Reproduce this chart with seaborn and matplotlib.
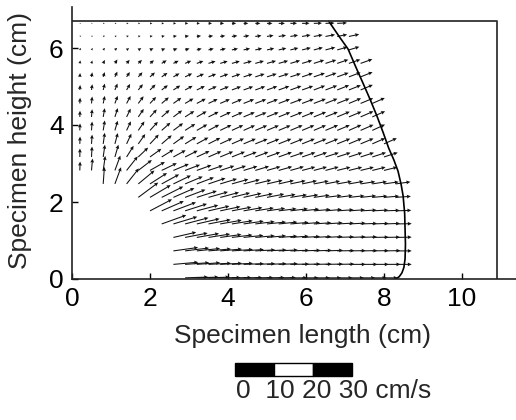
import numpy as np
import pandas as pd
import matplotlib
matplotlib.use("Agg")
from matplotlib import pyplot as plt
from matplotlib.patches import Rectangle
import seaborn as sns

# grid of the velocity field (cm)
col_x = [0.2, 0.5, 0.8, 1.1, 1.4, 1.7, 2.0, 2.3, 2.6, 2.9, 3.2, 3.5, 3.8, 4.1,
         4.4, 4.7, 5.0, 5.3, 5.6, 5.9, 6.2, 6.5, 6.8, 7.1, 7.4, 7.7, 8.0, 8.3]
row_y = [0.03, 0.38, 0.73, 1.08, 1.43, 1.77, 2.12, 2.47, 2.82, 3.17,
         3.51, 3.86, 4.21, 4.56, 4.91, 5.25, 5.60, 5.95, 6.30, 6.64]
# first column index that carries an arrow, per row (bottom -> top)
first_col = [9, 8, 8, 8, 7, 6, 5, 2, 0, 0, 0, 0, 0, 0, 0, 0, 0, 0, 0, 0]

# speed (cm/s) per row, bottom -> top
speed = [
    [5.9, 5.6, 5.4, 5.2, 5.0, 4.8, 4.6, 4.5, 4.4, 4.3, 4.2, 4.1, 4.0, 3.9, 3.8, 3.7, 3.6, 3.5],
    [6.4, 6.2, 6.0, 5.8, 5.6, 5.4, 5.2, 5.1, 5.0, 4.9, 4.8, 4.7, 4.6, 4.5, 4.4, 4.3, 4.3, 4.2, 4.2, 4.1],
    [6.4, 6.2, 6.0, 5.8, 5.6, 5.4, 5.2, 5.1, 5.0, 4.9, 4.8, 4.7, 4.6, 4.5, 4.4, 4.3, 4.3, 4.2, 4.2, 4.1],
    [6.0, 5.9, 5.8, 5.6, 5.5, 5.3, 5.1, 5.0, 4.9, 4.8, 4.7, 4.6, 4.5, 4.4, 4.3, 4.3, 4.2, 4.2, 4.1, 4.1],
    [6.7, 6.4, 6.2, 6.0, 5.8, 5.6, 5.4, 5.2, 5.0, 4.9, 4.8, 4.7, 4.6, 4.5, 4.4, 4.3, 4.3, 4.2, 4.2, 4.1, 4.1],
    [6.4, 6.2, 6.2, 5.9, 5.7, 5.5, 5.3, 5.1, 4.9, 4.8, 4.7, 4.6, 4.5, 4.4, 4.3, 4.2, 4.2, 4.1, 4.1, 4.1, 4.0, 4.0],
    [6.4, 6.2, 6.2, 5.9, 5.6, 5.4, 5.2, 5.0, 4.8, 4.7, 4.6, 4.5, 4.4, 4.3, 4.2, 4.1, 4.1, 4.0, 4.0, 4.0, 3.9, 3.9, 3.9],
    [4.4, 4.6, 5.1, 5.4, 5.2, 5.1, 5.0, 4.9, 4.7, 4.6, 4.5, 4.4, 4.3, 4.2, 4.1, 4.0, 4.0, 3.9, 3.9, 3.8, 3.8, 3.8, 3.8, 3.8, 3.8, 3.8],
    [2.3, 3.1, 3.8, 4.1, 4.6, 4.4, 4.4, 4.3, 4.3, 4.1, 4.0, 3.9, 3.8, 3.8, 3.7, 3.7, 3.6, 3.6, 3.6, 3.5, 3.5, 3.5, 3.5, 3.5, 3.5, 3.5, 3.5],
    [2.2, 2.7, 3.2, 3.3, 3.4, 3.5, 3.6, 3.6, 3.6, 3.6, 3.6, 3.6, 3.6, 3.6, 3.6, 3.6, 3.6, 3.6, 3.6, 3.6, 3.6, 3.6, 3.6, 3.6, 3.6, 3.7, 3.7],
    [1.9, 2.4, 2.9, 2.9, 2.9, 3.1, 3.3, 3.4, 3.4, 3.4, 3.4, 3.4, 3.4, 3.4, 3.4, 3.4, 3.4, 3.5, 3.5, 3.5, 3.5, 3.5, 3.6, 3.6, 3.6, 3.6, 3.6],
    [1.8, 2.3, 2.6, 2.6, 2.6, 2.8, 3.0, 3.0, 3.1, 3.1, 3.1, 3.1, 3.2, 3.2, 3.2, 3.3, 3.3, 3.3, 3.4, 3.4, 3.4, 3.5, 3.5, 3.5, 3.6, 3.6],
    [1.6, 2.0, 2.3, 2.4, 2.4, 2.5, 2.6, 2.7, 2.8, 2.8, 2.9, 2.9, 3.0, 3.0, 3.1, 3.1, 3.2, 3.2, 3.3, 3.3, 3.4, 3.4, 3.5, 3.5, 3.6, 3.6],
    [1.5, 1.8, 2.0, 2.1, 2.2, 2.3, 2.3, 2.4, 2.5, 2.5, 2.6, 2.6, 2.7, 2.8, 2.9, 3.0, 3.0, 3.1, 3.2, 3.2, 3.3, 3.3, 3.4, 3.4, 3.5, 3.5],
    [1.3, 1.5, 1.7, 1.8, 1.8, 1.9, 2.0, 2.0, 2.1, 2.2, 2.3, 2.3, 2.4, 2.5, 2.6, 2.7, 2.8, 2.9, 3.0, 3.0, 3.1, 3.2, 3.3, 3.3, 3.4],
    [1.0, 1.2, 1.3, 1.5, 1.5, 1.6, 1.7, 1.8, 1.8, 2.0, 2.0, 2.1, 2.2, 2.3, 2.4, 2.5, 2.6, 2.7, 2.8, 2.9, 3.0, 3.0, 3.1, 3.2, 3.3],
    [0.8, 0.8, 1.0, 1.2, 1.2, 1.3, 1.3, 1.5, 1.5, 1.7, 1.8, 1.9, 2.0, 2.1, 2.2, 2.3, 2.4, 2.5, 2.6, 2.7, 2.8, 2.9, 3.0, 3.1, 3.2],
    [0.6, 0.6, 0.7, 0.8, 0.8, 0.9, 1.0, 1.0, 1.1, 1.2, 1.3, 1.4, 1.5, 1.6, 1.7, 1.8, 1.9, 2.0, 2.1, 2.3, 2.4, 2.6, 2.7, 2.8],
    [0.4, 0.4, 0.5, 0.5, 0.6, 0.6, 0.7, 0.8, 0.9, 1.0, 1.1, 1.2, 1.3, 1.4, 1.5, 1.6, 1.7, 1.9, 2.0, 2.2, 2.3, 2.5, 2.6, 2.7],
    [0.3, 0.3, 0.4, 0.4, 0.5, 0.5, 0.6, 0.6, 0.7, 0.8, 0.8, 0.9, 1.0, 1.1, 1.2, 1.3, 1.4, 1.6, 1.7, 1.9, 2.1, 2.3, 2.5],
]

# direction (degrees from +x) per row, bottom -> top
angle = [
    [2, 2, 2, 1, 1, 1, 1, 1, 1, 0, 0, 0, 0, 0, 0, 0, 0, 0],
    [5, 4, 4, 3, 3, 3, 2, 2, 2, 2, 1, 1, 1, 1, 1, 0, 0, 0, 0, 0],
    [8, 7, 6, 5, 5, 4, 4, 3, 3, 3, 2, 2, 2, 2, 1, 1, 1, 1, 1, 0],
    [13, 11, 10, 9, 8, 7, 6, 5, 5, 4, 4, 3, 3, 3, 2, 2, 2, 1, 1, 1],
    [20, 17, 15, 13, 11, 10, 9, 8, 7, 6, 6, 5, 5, 4, 4, 3, 3, 2, 2, 2, 1],
    [28, 24, 21, 18, 15, 13, 12, 11, 10, 9, 8, 7, 7, 6, 5, 5, 4, 4, 3, 3, 2, 2],
    [37, 31, 27, 24, 21, 18, 16, 15, 14, 13, 12, 11, 10, 9, 9, 8, 7, 7, 6, 6, 5, 5, 4],
    [86, 70, 52, 40, 33, 29, 26, 23, 21, 19, 17, 16, 15, 14, 13, 13, 12, 12, 11, 11, 10, 10, 9, 9, 8, 8],
    [88, 85, 82, 70, 52, 38, 30, 26, 23, 21, 20, 19, 18, 18, 17, 17, 16, 16, 16, 15, 15, 15, 14, 14, 14, 14, 14],
    [89, 87, 82, 74, 58, 44, 36, 32, 29, 27, 25, 24, 23, 22, 21, 21, 20, 20, 19, 19, 19, 18, 18, 18, 18, 18, 18],
    [88, 86, 82, 75, 65, 55, 47, 41, 36, 32, 29, 27, 25, 24, 23, 22, 22, 22, 22, 22, 22, 22, 22, 23, 23, 24, 24],
    [88, 86, 81, 74, 65, 56, 48, 42, 37, 33, 30, 28, 26, 25, 24, 23, 23, 23, 23, 23, 23, 23, 23, 24, 24, 25],
    [88, 85, 80, 72, 64, 56, 48, 42, 37, 33, 30, 27, 25, 24, 23, 22, 22, 22, 22, 22, 22, 22, 23, 23, 24, 24],
    [87, 84, 78, 70, 62, 54, 47, 41, 36, 31, 28, 26, 24, 23, 22, 21, 21, 21, 21, 21, 21, 22, 22, 23, 23, 24],
    [86, 82, 76, 68, 60, 52, 45, 38, 33, 29, 26, 24, 22, 21, 20, 20, 20, 20, 20, 20, 21, 21, 22, 22, 23],
    [85, 80, 72, 65, 56, 48, 42, 35, 30, 26, 23, 21, 20, 19, 18, 18, 18, 18, 18, 19, 19, 20, 20, 21, 22],
    [80, 75, 65, 58, 50, 44, 38, 32, 27, 23, 20, 18, 17, 16, 16, 16, 16, 16, 17, 17, 18, 18, 19, 19, 20],
    [65, 55, 48, 42, 36, 30, 26, 22, 20, 18, 16, 15, 14, 13, 13, 13, 13, 13, 14, 14, 15, 15, 16, 17],
    [30, 25, 20, 18, 15, 13, 12, 11, 10, 9, 9, 8, 8, 8, 8, 8, 9, 9, 10, 10, 10, 11, 11, 12],
    [0, 0, 0, 0, 0, 0, 0, 0, 0, 0, 0, 0, 0, 0, 0, 0, 0, 0, 1, 1, 2, 2, 3],
]

# flow front and specimen outline (cm)
front_x = [6.58, 6.85, 7.08, 7.28, 7.46, 7.65, 7.82, 7.98, 8.12, 8.25, 8.36,
           8.44, 8.49, 8.53, 8.54, 8.55, 8.54, 8.51, 8.46, 8.39, 8.30]
front_y = [6.70, 6.30, 5.97, 5.50, 5.09, 4.65, 4.23, 3.80, 3.40, 3.10, 2.80,
           2.45, 2.16, 1.70, 1.30, 0.90, 0.52, 0.30, 0.16, 0.06, 0.00]
outline_x = [0.0, 10.9, 10.9]
outline_y = [6.70, 6.70, 0.0]

scale_steps = [0, 10, 20, 30]   # cm/s
vel_per_cm = 10                 # cm/s drawn per cm of specimen

rows = []
for i, y in enumerate(row_y):
    for k, (s, a) in enumerate(zip(speed[i], angle[i])):
        rows.append({"x": col_x[first_col[i] + k], "y": y,
                     "u": s * np.cos(np.radians(a)), "v": s * np.sin(np.radians(a))})
df = pd.DataFrame(rows)

sns.set_style("ticks")
plt.rcParams["font.family"] = ["Liberation Sans", "DejaVu Sans"]
plt.rcParams["font.size"] = 19

fig = plt.figure(figsize=(5.16, 4.2), dpi=100)
ax = fig.add_axes([72 / 516, 141 / 420, 444 / 516, 272 / 420])

ax.quiver(df["x"], df["y"], df["u"], df["v"], angles="xy", scale_units="xy",
          scale=vel_per_cm, width=0.0024, headwidth=3.6, headlength=3.8,
          headaxislength=3.4, color="#111111")
sns.lineplot(x=front_x, y=front_y, sort=False, estimator=None, color="black",
             lw=1.2, ax=ax)
ax.plot(outline_x, outline_y, color="#333333", lw=1.3)

ax.set_xlim(0, 444 / 39)
ax.set_ylim(0, 272 / 38.5)
ax.set_xticks([0, 2, 4, 6, 8, 10])
ax.set_yticks([0, 2, 4, 6])
ax.tick_params(direction="in", length=4, width=1, labelsize=19, pad=6, colors="black")
for side in ["top", "right"]:
    ax.spines[side].set_visible(False)
for side in ["left", "bottom"]:
    ax.spines[side].set_color("#222222")
    ax.spines[side].set_linewidth(1.2)

ax.set_xlabel("Specimen length (cm)", fontsize=19)
ax.set_ylabel("Specimen height (cm)", fontsize=19)
ax.xaxis.set_label_coords(0.52, -0.165)
ax.yaxis.set_label_coords(-0.09, 0.51)

# velocity scale bar below the axes, in data units
bar_x0 = 4.18
bar_y0 = -2.52
bar_h = 0.34
for n in range(len(scale_steps) - 1):
    w = (scale_steps[n + 1] - scale_steps[n]) / vel_per_cm
    x0 = bar_x0 + scale_steps[n] / vel_per_cm
    ax.add_patch(Rectangle((x0, bar_y0), w, bar_h, clip_on=False,
                           facecolor="black" if n % 2 == 0 else "white",
                           edgecolor="black", lw=1))
fig.text(236 / 516, 1 - 391 / 420, "0  10 20 30 cm/s", fontsize=19,
         ha="left", va="center")

fig.savefig("out.png", dpi=100)
